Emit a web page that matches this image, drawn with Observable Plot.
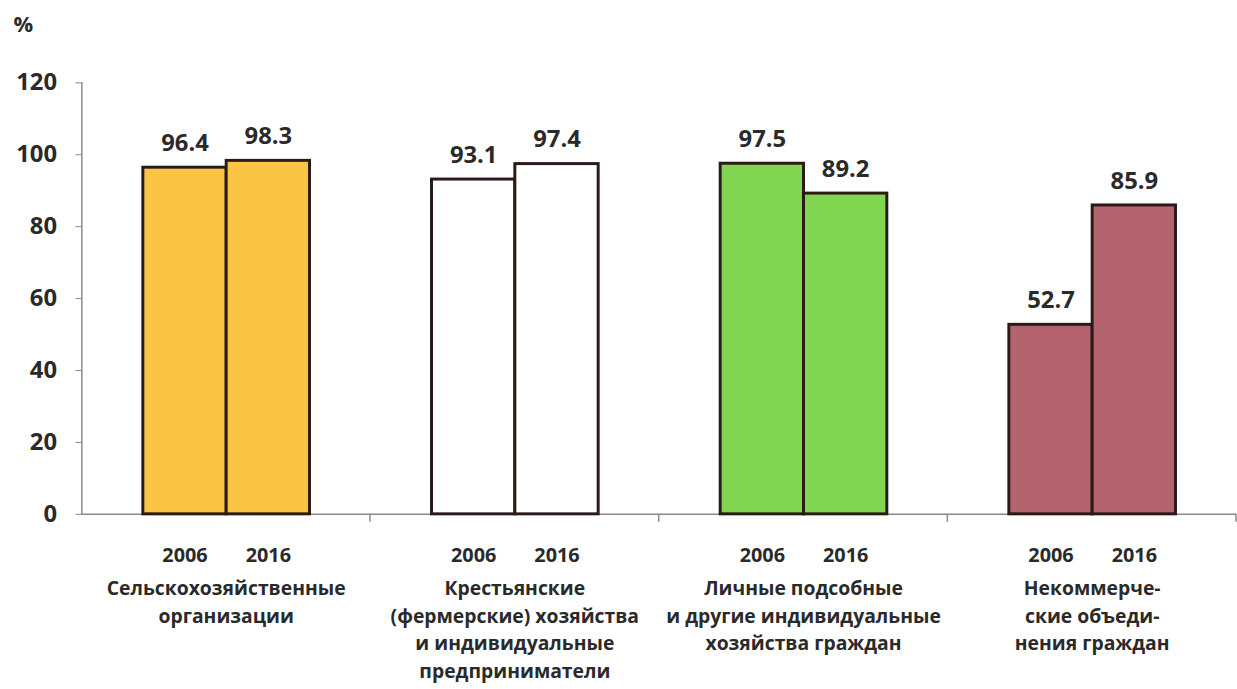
<!DOCTYPE html>
<html><head><meta charset="utf-8">
<script src="https://cdn.jsdelivr.net/npm/d3@7"></script>
<script src="https://cdn.jsdelivr.net/npm/@observablehq/plot@0.6"></script>
<style>
html,body{margin:0;padding:0;background:#fff;overflow:hidden;}
#chart svg{display:block;}
</style></head><body><div id="chart"></div>
<script>
const categories = ["agro", "farm", "private", "noncom"];
const categoryLabels = [
  "Сельскохозяйственные\nорганизации",
  "Крестьянские\n(фермерские) хозяйства\nи индивидуальные\nпредприниматели",
  "Личные подсобные\nи другие индивидуальные\nхозяйства граждан",
  "Некоммерче-\nские объеди-\nнения граждан"
];
const years = ["2006", "2016"];
const values2006 = [96.4, 93.1, 97.5, 52.7];
const values2016 = [98.3, 97.4, 89.2, 85.9];
const fills = ["#FAC445", "#FFFFFF", "#82D550", "#B5636F"];
const yTicks = [0, 20, 40, 60, 80, 100, 120];
const unitLabel = "%";

const data = categories.flatMap((c, i) => [
  {category: c, year: years[0], value: values2006[i]},
  {category: c, year: years[1], value: values2016[i]}
]);

const textColor = "#2a2a2a";
const axisColor = "#8a8a8a";

const boundaryTicks = (index, scales) => {
  const r = scales.x.range();
  const y0 = scales.y(0);
  return d3.create("svg:line")
    .attr("x1", r[1]).attr("x2", r[1])
    .attr("y1", y0).attr("y2", y0 + 8)
    .attr("stroke", axisColor).attr("stroke-width", 1.5)
    .node();
};

const chart = Plot.plot({
  width: 1247, height: 689,
  marginTop: 83, marginLeft: 80, marginRight: 0, marginBottom: 171,
  style: {fontFamily: "'Open Sans', sans-serif", fontWeight: 700, color: textColor, background: "#fff"},
  fx: {domain: categories, padding: 0, label: null},
  x: {domain: years, paddingInner: 0, paddingOuter: 0.726, label: null},
  y: {domain: [0, 120], label: null},
  color: {domain: categories, range: fills},
  marks: [
    Plot.frame({anchor: "left", facetAnchor: "left", stroke: axisColor, strokeWidth: 1.5}),
    Plot.ruleY([0], {stroke: axisColor, strokeWidth: 1.5}),
    boundaryTicks,
    Plot.barY(data, {fx: "category", x: "year", y: "value", fill: "category", stroke: "#2b1b18", strokeWidth: 3}),
    Plot.text(data, {fx: "category", x: "year", y: "value", text: d => d.value.toFixed(1),
      lineAnchor: "bottom", dy: -17, fontSize: 24, fontWeight: 700, fill: textColor}),
    Plot.text([unitLabel], {frameAnchor: "top-left", facetAnchor: "left", textAnchor: "start",
      lineAnchor: "middle", dx: -69, dy: -58, fontSize: 22, fontWeight: 700, fill: textColor}),
    Plot.axisY({ticks: yTicks, tickSize: 6, tickPadding: 19, fontSize: 24, fontWeight: 700,
      stroke: axisColor, fill: textColor, label: null}),
    Plot.axisX({tickSize: 0, tickPadding: 34, fontSize: 20, fontWeight: 700, fill: textColor, label: null}),
    Plot.axisFx({anchor: "bottom", tickSize: 0, tickPadding: 62, fontSize: 19.5, fontWeight: 700,
      lineHeight: 1.42, fill: textColor, label: null,
      tickFormat: d => categoryLabels[categories.indexOf(d)]})
  ]
});
document.getElementById("chart").append(chart);
</script></body></html>
